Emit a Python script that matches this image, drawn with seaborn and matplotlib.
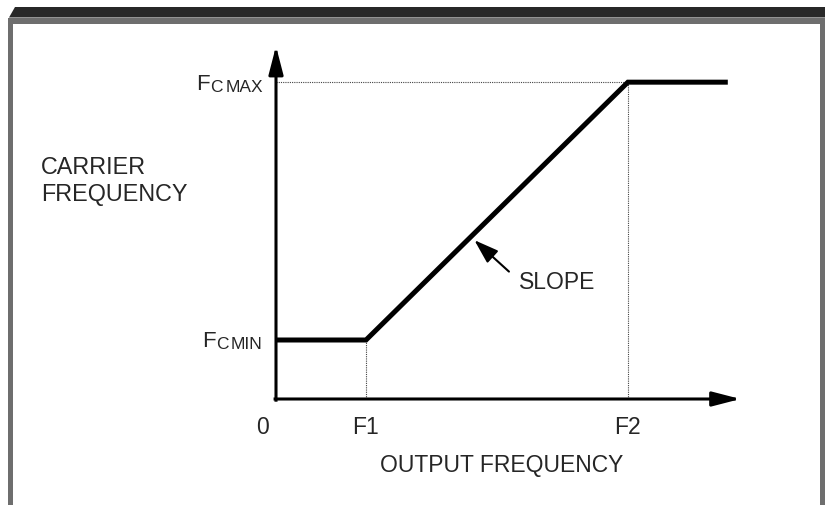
"""Carrier frequency vs output frequency diagram."""
import matplotlib.pyplot as plt
import seaborn as sns
from matplotlib.patches import Polygon, Rectangle

# diagram values (F1 = 1 unit on the output axis, Fc MIN = 1 unit on the carrier axis)
output_freq = [0.0, 1.0, 3.91, 5.02]
carrier_freq = [1.0, 1.0, 5.37, 5.37]
F1, F2 = 1.0, 3.91
FC_MIN, FC_MAX = 1.0, 5.37
tick_pos = [0.0, F1, F2]
tick_labels = ["0", "F1", "F2"]

sns.set_theme(style="white")
plt.rcParams["font.family"] = ["Liberation Sans", "DejaVu Sans"]

W, H = 825, 506
fig = plt.figure(figsize=(W / 100, H / 100), dpi=100)
fig.patch.set_facecolor("white")

# frame decoration (pixel coordinates)
deco = fig.add_axes([0, 0, 1, 1])
deco.set_xlim(0, W)
deco.set_ylim(H, 0)
deco.axis("off")
deco.add_patch(Polygon([(9, 18.5), (15, 8), (W, 8), (W, 18.5)], closed=True,
                       facecolor="#282828", edgecolor="none"))
deco.add_patch(Rectangle((8, 18.5), W - 8, 6, facecolor="#6e6e6e", edgecolor="none"))
deco.add_patch(Rectangle((8, 18.5), 5, H, facecolor="#6e6e6e", edgecolor="none"))
deco.add_patch(Rectangle((820, 18.5), 5, H, facecolor="#6e6e6e", edgecolor="none"))

# plotting axes: origin at pixel (276, 400), 90 px per x unit, 59 px per y unit
ax = fig.add_axes([276 / W, (H - 400) / H, 540 / W, 383.5 / H])
ax.set_xlim(0, 6)
ax.set_ylim(0, 6.5)
ax.axis("off")

# axes with arrow heads
axis_arrow = dict(arrowstyle="-|>,head_length=0.85,head_width=0.22", color="black",
                  lw=2.2, mutation_scale=20, shrinkA=0, shrinkB=0, capstyle="projecting")
ax.annotate("", xy=(5.16, 0), xytext=(-0.01, 0), arrowprops=axis_arrow, annotation_clip=False)
ax.annotate("", xy=(0, 5.98), xytext=(0, -0.02), arrowprops=axis_arrow, annotation_clip=False)

# dotted guides
guide = dict(color="#444444", lw=0.8, linestyle=(0, (1, 1)))
ax.plot([0, F2], [FC_MAX, FC_MAX], **guide)
ax.plot([F2, F2], [0, FC_MAX], **guide)
ax.plot([F1, F1], [0, FC_MIN], **guide)

# carrier frequency curve
sns.lineplot(x=output_freq, y=carrier_freq, sort=False, estimator=None, color="black",
             lw=3.6, ax=ax, solid_joinstyle="miter", solid_capstyle="butt")

# tick labels under the output axis
for pos, lab in zip(tick_pos, tick_labels):
    dx = -10 if lab == "0" else 0
    ax.annotate(lab, xy=(pos, 0), xytext=(dx, -19.5), textcoords="offset points",
                ha="center", va="center", fontsize=16.5, annotation_clip=False)

ax.annotate("OUTPUT FREQUENCY", xy=(2.51, 0), xytext=(0, -47), textcoords="offset points",
            ha="center", va="center", fontsize=16.5, annotation_clip=False)
ax.annotate("CARRIER\nFREQUENCY", xy=(0, 3.71), xytext=(-169, 0), textcoords="offset points",
            ha="left", va="center", fontsize=16.8, linespacing=1.25, annotation_clip=False)


# Fc MAX / Fc MIN labels, "F" in full size, the rest in small caps
def fc_label(level, sub):
    t_sub = ax.annotate(sub, xy=(0, level), xytext=(-9.5, -6), textcoords="offset points",
                        ha="right", va="baseline", fontsize=12.5, annotation_clip=False)
    t_c = ax.annotate("C", xy=(0, 0), xycoords=t_sub, xytext=(-1.5, 0), textcoords="offset points",
                      ha="right", va="bottom", fontsize=12.5)
    ax.annotate("F", xy=(0, 0), xycoords=t_c, xytext=(-0.3, 0), textcoords="offset points",
                ha="right", va="bottom", fontsize=16)


fc_label(FC_MAX, "MAX")
fc_label(FC_MIN, "MIN")

# slope annotation pointing at the rising segment
t = 0.40
sx = output_freq[1] + t * (output_freq[2] - output_freq[1])
sy = carrier_freq[1] + t * (carrier_freq[2] - carrier_freq[1])
ax.annotate("", xy=(sx, sy), xytext=(27.5, -25), textcoords="offset points",
            arrowprops=dict(arrowstyle="-|>,head_length=0.75,head_width=0.25", color="black",
                            lw=1.5, mutation_scale=20, shrinkA=0, shrinkB=3.5))
ax.annotate("SLOPE", xy=(sx, sy), xytext=(35, -32), textcoords="offset points",
            ha="left", va="center", fontsize=16.5)

fig.savefig("out.png", dpi=100, facecolor="white")
